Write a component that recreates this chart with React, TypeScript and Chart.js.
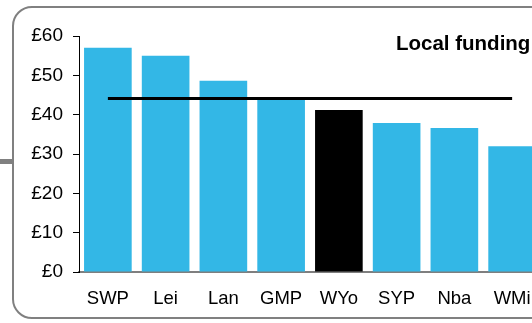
import React, { useEffect, useRef } from "react";
import { Chart, registerables } from "chart.js";

Chart.register(...registerables);

const categories = ["SWP", "Lei", "Lan", "GMP", "WYo", "SYP", "Nba", "WMi"];
const fundingValues = [57, 55, 48.6, 44.5, 41.2, 37.9, 36.6, 32.0];
const averageValue = [44.1, 44.1, 44.1, 44.1, 44.1, 44.1, 44.1, 44.1];
const yTicks = [0, 10, 20, 30, 40, 50, 60];
const titleText = "Local funding";

const CYAN = "#33B7E6";
const FONT = "'Liberation Sans', Arial, sans-serif";

export default function App() {
  const ref = useRef<HTMLCanvasElement | null>(null);

  useEffect(() => {
    if (!ref.current) return;
    const titlePlugin = {
      id: "cornerTitle",
      afterDraw(chart: any) {
        const ctx = chart.ctx;
        ctx.save();
        ctx.font = `bold 20.5px ${FONT}`;
        ctx.fillStyle = "#000";
        ctx.textAlign = "left";
        ctx.textBaseline = "alphabetic";
        ctx.fillText(titleText, 396, 50);
        ctx.restore();
      },
    };
    const chart = new Chart(ref.current, {
      type: "bar",
      data: {
        labels: categories,
        datasets: [
          {
            type: "line",
            data: averageValue,
            borderColor: "#000",
            borderWidth: 3,
            pointRadius: 0,
            fill: false,
            order: 0,
          } as any,
          {
            type: "bar",
            data: fundingValues,
            backgroundColor: fundingValues.map((_, i) => (categories[i] === "WYo" ? "#000000" : CYAN)),
            borderWidth: 0,
            categoryPercentage: 1,
            barPercentage: 0.825,
            order: 1,
          },
        ],
      },
      options: {
        responsive: false,
        animation: false,
        events: [],
        layout: { padding: { left: 0, right: 19, top: 36, bottom: 0 } },
        plugins: {
          legend: { display: false },
          tooltip: { enabled: false },
          title: { display: false },
        },
        scales: {
          x: {
            z: 1,
            grid: { display: false, drawTicks: false },
            border: { display: true, color: "rgba(0,0,0,0.5)", width: 2 },
            ticks: {
              color: "#000",
              font: { family: FONT, size: 18.5 },
              padding: 16,
              maxRotation: 0,
              autoSkip: false,
            },
            afterFit: (s: any) => {
              s.height = 51;
            },
          },
          y: {
            min: 0,
            max: 60,
            afterBuildTicks: (s: any) => {
              s.ticks = yTicks.map((v) => ({ value: v }));
            },
            grid: {
              display: true,
              drawOnChartArea: false,
              drawTicks: true,
              tickLength: 6,
              color: "#000",
              lineWidth: 1,
            },
            border: { display: true, color: "#000", width: 1 },
            ticks: {
              color: "#000",
              font: { family: FONT, size: 19 },
              padding: 10,
              callback: (v: any) => "£" + v,
            },
            afterFit: (s: any) => {
              s.width = 79;
            },
          },
        },
      },
      plugins: [titlePlugin],
    } as any);
    return () => chart.destroy();
  }, []);

  return (
    <div
      style={{
        position: "fixed",
        left: 0,
        top: 0,
        width: 532,
        height: 323,
        overflow: "hidden",
        background: "#fff",
      }}
    >
      <div
        style={{
          position: "absolute",
          left: 12,
          top: 6,
          width: 540,
          height: 313,
          border: "2px solid #808080",
          borderRadius: 20,
          boxSizing: "border-box",
        }}
      />
      <div
        style={{
          position: "absolute",
          left: 0,
          top: 159,
          width: 13,
          height: 5,
          background: "#808080",
        }}
      />
      <canvas
        ref={ref}
        width={560}
        height={323}
        style={{ position: "absolute", left: 0, top: 0, width: 560, height: 323 }}
      />
    </div>
  );
}
